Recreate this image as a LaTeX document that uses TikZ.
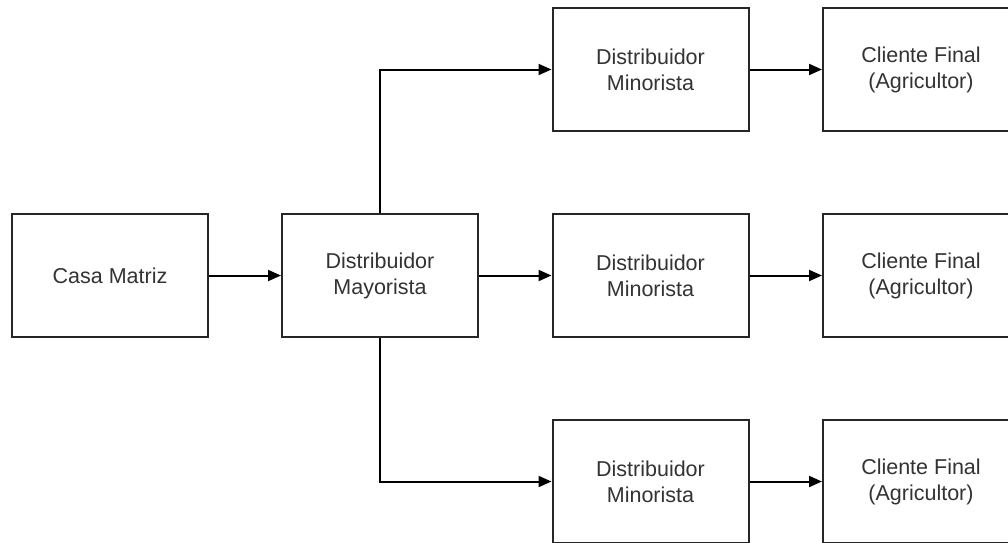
\documentclass[tikz,border=0pt]{standalone}
\usepackage{fontspec}
\setmainfont{Liberation Sans}
\usetikzlibrary{arrows.meta}
\begin{document}
\begin{tikzpicture}[x=1pt,y=1pt,
  blk/.style={draw=black!85, line width=2pt, fill=white, minimum width=196pt, minimum height=123pt,
    inner sep=0pt, align=center, text=black!80, font=\fontsize{21.5}{26}\selectfont},
  conn/.style={draw=black, line width=2pt, -{Triangle[length=13pt,width=11pt]}}]
\useasboundingbox (0,0) rectangle (1008,-542);
\clip (0,0) rectangle (1008,-542);
\fill[white] (0,0) rectangle (1008,-542);
\node[blk] (casa) at (110,-275.5) {Casa Matriz};
\node[blk] (may) at (380,-275.5) {Distribuidor\\Mayorista};
\node[blk] (min1) at (650.5,-69.5) {Distribuidor\\Minorista};
\node[blk] (min2) at (650.5,-275.5) {Distribuidor\\Minorista};
\node[blk] (min3) at (650.5,-481.5) {Distribuidor\\Minorista};
\node[blk] (cli1) at (921,-69.5) {Cliente Final\\(Agricultor)};
\node[blk] (cli2) at (921,-275.5) {Cliente Final\\(Agricultor)};
\node[blk] (cli3) at (921,-481.5) {Cliente Final\\(Agricultor)};
\draw[conn] (casa) -- (may);
\draw[conn] (may) -- (min2);
\draw[conn] (may.north) |- (min1.west);
\draw[conn] (may.south) |- (min3.west);
\draw[conn] (min1) -- (cli1);
\draw[conn] (min2) -- (cli2);
\draw[conn] (min3) -- (cli3);
\end{tikzpicture}
\end{document}
